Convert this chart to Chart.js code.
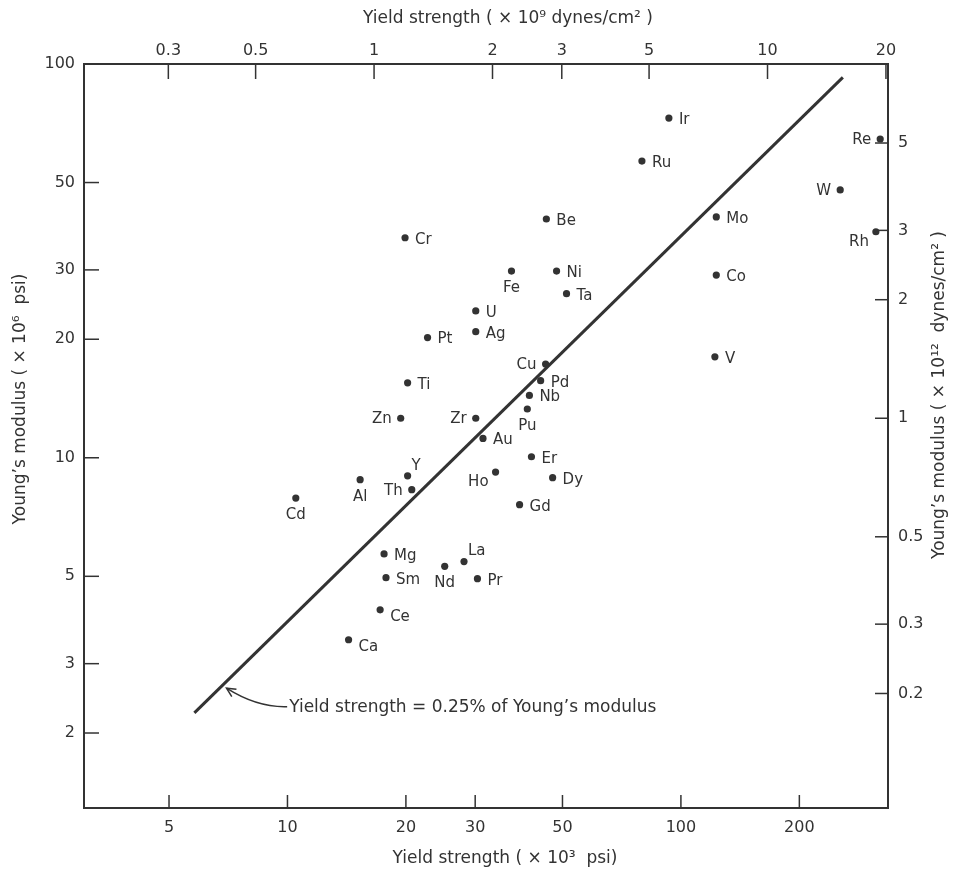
<!DOCTYPE html>
<html>
<head>
<meta charset="utf-8">
<script src="https://cdn.jsdelivr.net/npm/chart.js@4.4.0/dist/chart.umd.min.js"></script>
<style>
html,body{margin:0;padding:0;background:#ffffff;}
#wrap{width:953px;height:878px;position:relative;}
</style>
</head>
<body>
<div id="wrap"><canvas id="c" width="953" height="878"></canvas></div>
<script>
// ---------------- data ----------------
const elements = ['Ir','Ru','Re','W','Mo','Rh','Co','V','Be','Cr','Fe','Ni','Ta','U','Ag','Pt','Cu','Pd','Ti','Nb','Pu','Zn','Zr','Au','Er','Cd','Al','Y','Th','Ho','Dy','Gd','Mg','La','Nd','Sm','Pr','Ce','Ca'];
// yield strength, x 10^3 psi
const yieldStrength = [93.2,79.6,321,254,123,313,123,122,45.5,19.9,37.1,48.3,51.2,30.1,30.1,22.7,45.3,44.0,20.2,41.2,40.7,19.4,30.1,31.4,41.7,10.5,15.3,20.2,20.7,33.8,47.2,38.9,17.6,28.1,25.1,17.8,30.4,17.2,14.3];
// Young's modulus, x 10^6 psi
const youngsModulus = [72.9,56.7,64.5,47.9,40.9,37.5,29.1,18.05,40.4,36.2,29.8,29.8,26.1,23.6,20.9,20.2,17.3,15.7,15.5,14.4,13.3,12.6,12.6,11.2,10.06,7.9,8.8,9.0,8.3,9.2,8.9,7.6,5.7,5.45,5.3,4.96,4.93,4.11,3.45];
// reference line "yield strength = 0.25% of Young's modulus" (end points)
const lineYield = [5.8, 258];
const lineModulus = [2.25, 92.5];
// tick labels
const bottomTicks = [5,10,20,30,50,100,200];
const leftTicks = [2,3,5,10,20,30,50,100];
const topTicks = [0.3,0.5,1,2,3,5,10,20];
const rightTicks = [0.2,0.3,0.5,1,2,3,5];
// axis ranges and the secondary-axis scale relations as drawn in the figure
const xRange = [3.04, 336];
const yRange = [1.29, 100];
const topFactor = 16.6;   // 10^3 psi per 10^9 dynes/cm^2 (as drawn)
const rightFactor = 12.6; // 10^6 psi per 10^12 dynes/cm^2 (as drawn)

// ---------------- presentation ----------------
const INK = '#333333';
const FONT = '"DejaVu Sans", sans-serif';
const labelSide = {Re:'l', W:'l', Rh:'lb', Fe:'b', Cu:'l', Pu:'b', Zn:'l', Zr:'l', Cd:'b', Al:'b', Y:'ur', Th:'l', Ho:'lb', La:'ur', Nd:'b', Ca:'rb', Ce:'rb'};
const sideOffsets = {
  r:  {dx: 10, dy: 2,  align: 'left'},
  l:  {dx: -9, dy: 1,  align: 'right'},
  b:  {dx: 0,  dy: 17, align: 'center'},
  ur: {dx: 4,  dy: -10, align: 'left'},
  lb: {dx: -7, dy: 10, align: 'right'},
  rb: {dx: 10, dy: 7,  align: 'left'}
};
const axisTitles = {
  bottom: 'Yield strength ( \u00d7 10\u00b3  psi)',
  top: 'Yield strength ( \u00d7 10\u2079 dynes/cm\u00b2 )',
  left: 'Young\u2019s modulus ( \u00d7 10\u2076  psi)',
  right: 'Young\u2019s modulus ( \u00d7 10\u00b9\u00b2  dynes/cm\u00b2 )'
};
const annotation = {
  text: 'Yield strength = 0.25% of Young\u2019s modulus',
  tip: [7.0, 2.6],
  at: [10.1, 2.32]
};

const fmt = v => String(v);

const pointData = yieldStrength.map((x, i) => ({x: x, y: youngsModulus[i]}));
const lineData = lineYield.map((x, i) => ({x: x, y: lineModulus[i]}));

const decorations = {
  id: 'decorations',
  afterDraw(chart) {
    const ctx = chart.ctx;
    const a = chart.chartArea;
    const sx = chart.scales.x, sy = chart.scales.y, st = chart.scales.xTop, sr = chart.scales.yRight;
    ctx.save();
    // inside tick marks
    ctx.strokeStyle = INK;
    ctx.lineWidth = 1.5;
    const L = 15;
    sx.ticks.forEach(t => { const p = sx.getPixelForValue(t.value); ctx.beginPath(); ctx.moveTo(p, a.bottom); ctx.lineTo(p, a.bottom - 13); ctx.stroke(); });
    st.ticks.forEach(t => { const p = st.getPixelForValue(t.value); ctx.beginPath(); ctx.moveTo(p, a.top); ctx.lineTo(p, a.top + L); ctx.stroke(); });
    sy.ticks.forEach(t => { const p = sy.getPixelForValue(t.value); ctx.beginPath(); ctx.moveTo(a.left, p); ctx.lineTo(a.left + L, p); ctx.stroke(); });
    sr.ticks.forEach(t => { const p = sr.getPixelForValue(t.value); ctx.beginPath(); ctx.moveTo(a.right, p); ctx.lineTo(a.right - 13, p); ctx.stroke(); });

    // element labels
    const meta = chart.getDatasetMeta(0);
    ctx.fillStyle = INK;
    ctx.font = '15px ' + FONT;
    ctx.textBaseline = 'middle';
    meta.data.forEach((pt, i) => {
      const o = sideOffsets[labelSide[elements[i]] || 'r'];
      ctx.textAlign = o.align;
      ctx.fillText(elements[i], pt.x + o.dx, pt.y + o.dy);
    });

    // annotation with curved arrow
    const tx = sx.getPixelForValue(annotation.tip[0]), ty = sy.getPixelForValue(annotation.tip[1]);
    const lx = sx.getPixelForValue(annotation.at[0]), ly = sy.getPixelForValue(annotation.at[1]);
    ctx.font = '17px ' + FONT;
    ctx.textAlign = 'left';
    ctx.fillText(annotation.text, lx, ly);
    ctx.lineWidth = 1.5;
    ctx.beginPath();
    ctx.moveTo(lx - 2, ly - 1);
    ctx.quadraticCurveTo(lx - 32, ly, tx, ty);
    ctx.stroke();
    const ang = Math.atan2(ty - (ly), tx - (lx - 32));
    const hl = 10, hw = 0.45;
    ctx.beginPath();
    ctx.moveTo(tx - hl * Math.cos(ang - hw), ty - hl * Math.sin(ang - hw));
    ctx.lineTo(tx, ty);
    ctx.lineTo(tx - hl * Math.cos(ang + hw), ty - hl * Math.sin(ang + hw));
    ctx.stroke();

    // axis titles
    ctx.font = '17px ' + FONT;
    ctx.textAlign = 'center';
    ctx.textBaseline = 'middle';
    ctx.fillText(axisTitles.bottom, 505, 859);
    ctx.fillText(axisTitles.top, 508, 19);
    ctx.save(); ctx.translate(21, 399); ctx.rotate(-Math.PI / 2); ctx.fillText(axisTitles.left, 0, 0); ctx.restore();
    ctx.save(); ctx.translate(940, 395); ctx.rotate(-Math.PI / 2); ctx.fillText(axisTitles.right, 0, 0); ctx.restore();
    ctx.restore();
  }
};

const tickFont = {family: FONT, size: 16};
function axisCommon(extra) {
  return Object.assign({
    type: 'logarithmic',
    bounds: 'data',
    grid: {display: false, drawTicks: false},
    border: {display: true, color: INK, width: 2},
    title: {display: false}
  }, extra);
}

new Chart(document.getElementById('c'), {
  type: 'scatter',
  data: {
    datasets: [
      {
        label: 'Metals',
        data: pointData,
        xAxisID: 'x', yAxisID: 'y',
        backgroundColor: INK, borderWidth: 0,
        pointRadius: 3.6, pointHoverRadius: 3.6
      },
      {
        type: 'line',
        label: 'Yield strength = 0.25% of Young\u2019s modulus',
        data: lineData,
        xAxisID: 'x', yAxisID: 'y',
        borderColor: INK, borderWidth: 3, pointRadius: 0, fill: false, tension: 0
      }
    ]
  },
  options: {
    responsive: false,
    animation: false,
    devicePixelRatio: 1,
    layout: {padding: 0},
    plugins: {legend: {display: false}, tooltip: {enabled: false}},
    scales: {
      x: axisCommon({
        position: 'bottom', min: xRange[0], max: xRange[1],
        afterBuildTicks: s => { s.ticks = bottomTicks.map(v => ({value: v})); },
        afterFit: s => { s.height = 70; },
        ticks: {autoSkip: false, maxRotation: 0, padding: 10, color: INK, font: tickFont, callback: v => fmt(v)}
      }),
      xTop: axisCommon({
        position: 'top', min: xRange[0] / topFactor, max: xRange[1] / topFactor,
        afterBuildTicks: s => { s.ticks = topTicks.map(v => ({value: v})); },
        afterFit: s => { s.height = 64; },
        ticks: {autoSkip: false, maxRotation: 0, padding: 4, color: INK, font: tickFont, callback: v => fmt(v)}
      }),
      y: axisCommon({
        position: 'left', min: yRange[0], max: yRange[1],
        afterBuildTicks: s => { s.ticks = leftTicks.map(v => ({value: v})); },
        afterFit: s => { s.width = 84; },
        ticks: {autoSkip: false, padding: 9, color: INK, font: tickFont, callback: v => fmt(v)}
      }),
      yRight: axisCommon({
        position: 'right', min: yRange[0] / rightFactor, max: yRange[1] / rightFactor,
        afterBuildTicks: s => { s.ticks = rightTicks.map(v => ({value: v})); },
        afterFit: s => { s.width = 65; },
        ticks: {autoSkip: false, padding: 10, color: INK, font: tickFont, callback: v => fmt(v)}
      })
    }
  },
  plugins: [decorations]
});
</script>
</body>
</html>
